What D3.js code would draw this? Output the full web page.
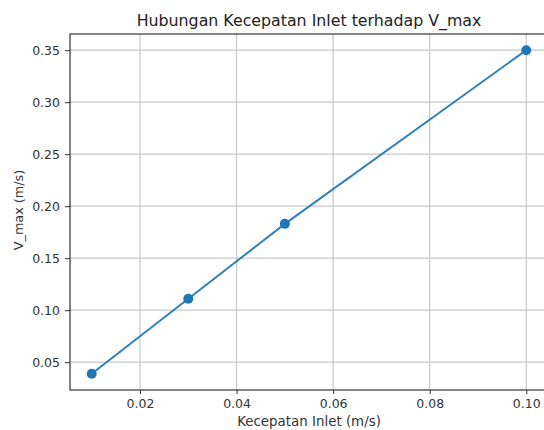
<!doctype html>
<html>
  <head>
    <meta charset="utf-8">
    <title>Hubungan Kecepatan Inlet terhadap V_max</title>
    <style>
      body { margin: 0; background: #fff; }
      svg { display: block; font-family: "DejaVu Sans", sans-serif; }
    </style>
  </head>
  <body>
    <div id="chart"></div>

    <script src="https://d3js.org/d3.v7.min.js"></script>
    <script>
      // data
      var inletSpeed = [0.01, 0.03, 0.05, 0.10];
      var vMax = [0.0388, 0.111, 0.183, 0.35];
      var xTicks = [0.02, 0.04, 0.06, 0.08, 0.10];
      var yTicks = [0.05, 0.10, 0.15, 0.20, 0.25, 0.30, 0.35];

      (function(d3) {
        var width = 544;
        var height = 430;
        var mLeft = 70, mRight = 548, mTop = 34, mBottom = 390;

        var svg = d3.select('#chart')
          .append('svg')
          .attr('width', width)
          .attr('height', height);

        // matplotlib style 5% padding
        var xPad = (d3.max(inletSpeed) - d3.min(inletSpeed)) * 0.05;
        var yPad = (d3.max(vMax) - d3.min(vMax)) * 0.05;

        var x = d3.scaleLinear()
          .domain([d3.min(inletSpeed) - xPad, d3.max(inletSpeed) + xPad])
          .range([mLeft, mRight]);
        var y = d3.scaleLinear()
          .domain([d3.min(vMax) - yPad, d3.max(vMax) + yPad])
          .range([mBottom, mTop]);

        // grid
        svg.append('g')
          .selectAll('line')
          .data(xTicks)
          .enter()
          .append('line')
          .attr('x1', function(d) { return x(d); })
          .attr('x2', function(d) { return x(d); })
          .attr('y1', mTop)
          .attr('y2', mBottom)
          .attr('stroke', '#c8c8c8')
          .attr('stroke-width', 1.2);

        svg.append('g')
          .selectAll('line')
          .data(yTicks)
          .enter()
          .append('line')
          .attr('x1', mLeft)
          .attr('x2', mRight)
          .attr('y1', function(d) { return y(d); })
          .attr('y2', function(d) { return y(d); })
          .attr('stroke', '#c8c8c8')
          .attr('stroke-width', 1.2);

        // axes
        var xAxis = svg.append('g')
          .attr('transform', 'translate(0,' + mBottom + ')')
          .call(d3.axisBottom(x).tickValues(xTicks).tickFormat(d3.format('.2f')).tickSize(4).tickPadding(5));
        var yAxis = svg.append('g')
          .attr('transform', 'translate(' + mLeft + ',0)')
          .call(d3.axisLeft(y).tickValues(yTicks).tickFormat(d3.format('.2f')).tickSize(5).tickPadding(5));

        [xAxis, yAxis].forEach(function(a) {
          a.select('.domain').remove();
          a.selectAll('line').attr('stroke', '#333');
          a.selectAll('text')
            .attr('fill', '#333')
            .style('font-size', '12.5px')
            .style('font-family', '"DejaVu Sans", sans-serif');
        });

        // frame (right side falls outside the picture)
        svg.append('rect')
          .attr('x', mLeft)
          .attr('y', mTop)
          .attr('width', mRight - mLeft)
          .attr('height', mBottom - mTop)
          .attr('fill', 'none')
          .attr('stroke', '#333')
          .attr('stroke-width', 1.2);

        // series
        var pts = inletSpeed.map(function(d, i) { return [d, vMax[i]]; });

        svg.append('path')
          .datum(pts)
          .attr('fill', 'none')
          .attr('stroke', '#2f80bd')
          .attr('stroke-width', 2)
          .attr('d', d3.line()
            .x(function(d) { return x(d[0]); })
            .y(function(d) { return y(d[1]); }));

        svg.append('g')
          .selectAll('circle')
          .data(pts)
          .enter()
          .append('circle')
          .attr('cx', function(d) { return x(d[0]); })
          .attr('cy', function(d) { return y(d[1]); })
          .attr('r', 5)
          .attr('fill', '#1f77b4');

        // labels
        svg.append('text')
          .attr('x', (mLeft + mRight) / 2)
          .attr('y', 26)
          .attr('text-anchor', 'middle')
          .attr('fill', '#222')
          .style('font-size', '15.8px')
          .text('Hubungan Kecepatan Inlet terhadap V_max');

        svg.append('text')
          .attr('x', (mLeft + mRight) / 2)
          .attr('y', 426)
          .attr('text-anchor', 'middle')
          .attr('fill', '#333')
          .style('font-size', '13.4px')
          .text('Kecepatan Inlet (m/s)');

        svg.append('text')
          .attr('transform', 'translate(23,210) rotate(-90)')
          .attr('text-anchor', 'middle')
          .attr('fill', '#333')
          .style('font-size', '12.8px')
          .text('V_max (m/s)');
      })(window.d3);
    </script>
  </body>
</html>
